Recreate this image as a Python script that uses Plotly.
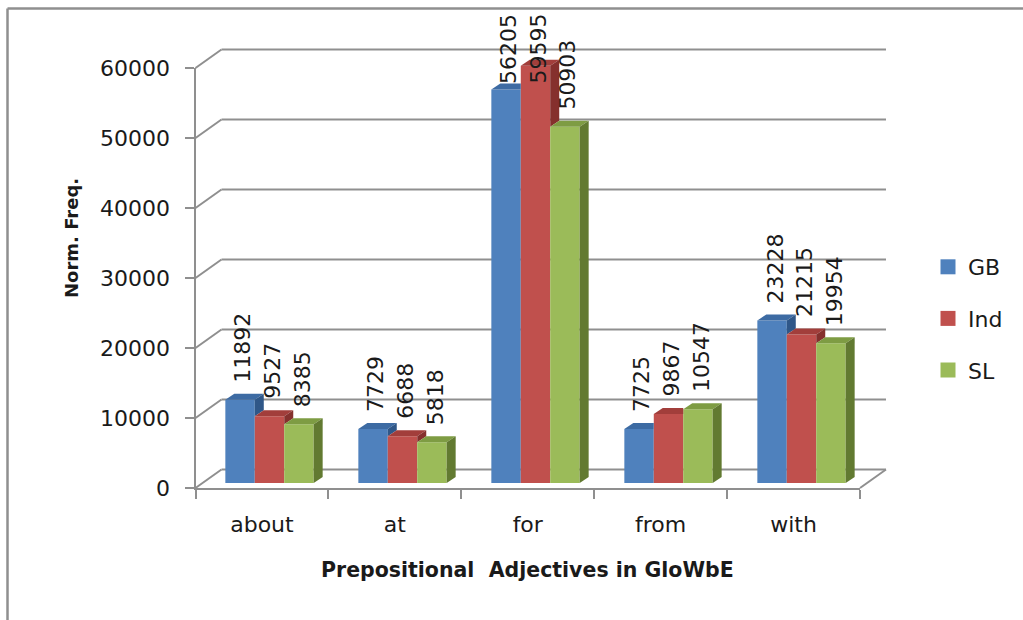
import plotly.graph_objects as go

# ---- data -------------------------------------------------------------
categories = ["about", "at", "for", "from", "with"]
series_names = ["GB", "Ind", "SL"]
gb_values = [11892, 7729, 56205, 7725, 23228]
ind_values = [9527, 6688, 59595, 9867, 21215]
sl_values = [8385, 5818, 50903, 10547, 19954]
y_ticks = [0, 10000, 20000, 30000, 40000, 50000, 60000]

x_title = "Prepositional  Adjectives in GloWbE"
y_title = "Norm. Freq."

# ---- styling ----------------------------------------------------------
FONT = "DejaVu Sans"
TEXT_COLOR = "#1a1a1a"
LINE_COLOR = "#8f8f8f"
front_colors = ["#4f81bd", "#c0504d", "#9bbb59"]
top_colors = ["#3d6ba3", "#a23e3b", "#7e9c43"]
side_colors = ["#2f5788", "#85302d", "#627a31"]

W, H = 1023, 620

# pseudo-3D frame geometry (pixels)
CAT_PX = 133.0            # width of one category slot
PX_PER_UNIT = 0.007       # vertical pixels per unit of Norm. Freq.
FRONT_LEFT = 195.5        # x of the front value axis
FRONT_RIGHT = 860.0       # right end of the front floor edge
FRONT_BASE = 488.0        # y of the front floor edge
BAR_SHIFT = (7.5, -5.0)   # plane of the column fronts, relative to the front plane
WALL_SHIFT = (26.0, -18.5)  # back wall, relative to the front plane
DEPTH = (9.0, -6.0)       # depth of each column
GROUP_FRAC = 0.664        # share of a category slot taken by the cluster

LABEL_SIZE = 22
LABEL_GAP = 15            # gap between column top and its value label
LABEL_TOP_LIMIT = 14      # labels are kept below this pixel row


# main axes = plane of the column fronts (x: category index, y: value)
def px_to_x(px):
    return (px - FRONT_LEFT - BAR_SHIFT[0]) / CAT_PX - 0.5


def py_to_y(py):
    return (FRONT_BASE + BAR_SHIFT[1] - py) / PX_PER_UNIT


x_range = [px_to_x(0), px_to_x(W)]
y_range = [py_to_y(H), py_to_y(0)]

ddx = DEPTH[0] / CAT_PX
ddy = -DEPTH[1] / PX_PER_UNIT

fig = go.Figure()
shapes = []
annotations = []


def line(x0, y0, x1, y1, layer="below"):
    shapes.append(dict(type="line", xref="x", yref="y", x0=x0, y0=y0, x1=x1, y1=y1,
                       line=dict(color=LINE_COLOR, width=2), layer=layer))


# back wall gridlines and left-side diagonals
wall_dy = -(WALL_SHIFT[1] - BAR_SHIFT[1]) / PX_PER_UNIT
front_dy = BAR_SHIFT[1] / PX_PER_UNIT
wall_x0 = px_to_x(FRONT_LEFT + WALL_SHIFT[0])
wall_x1 = px_to_x(FRONT_RIGHT + WALL_SHIFT[0])
front_x0 = px_to_x(FRONT_LEFT)
front_x1 = px_to_x(FRONT_RIGHT)
for v in y_ticks:
    line(wall_x0, v + wall_dy, wall_x1, v + wall_dy)
    line(front_x0, v + front_dy, wall_x0, v + wall_dy)
# right end of the floor
line(front_x1, front_dy, wall_x1, wall_dy)

# columns
all_values = [gb_values, ind_values, sl_values]
bar_w = GROUP_FRAC / 3
xs = list(range(len(categories)))
for k, (name, vals) in enumerate(zip(series_names, all_values)):
    off = -GROUP_FRAC / 2 + k * bar_w
    fig.add_trace(go.Bar(
        x=xs, y=vals, width=bar_w, offset=off, name=name,
        marker=dict(color=front_colors[k], line=dict(width=0)),
        showlegend=False, hoverinfo="y+name", xaxis="x", yaxis="y",
    ))
    for i, v in enumerate(vals):
        x0 = i + off
        x1 = x0 + bar_w
        nxt = all_values[k + 1][i] if k + 1 < len(all_values) else None
        # top face (its right part hides behind a taller neighbour)
        if nxt is not None and nxt > v:
            top = [(x0, v), (x1, v), (x1, v + ddy), (x0 + ddx, v + ddy)]
        else:
            top = [(x0, v), (x1, v), (x1 + ddx, v + ddy), (x0 + ddx, v + ddy)]
        # right side face (visible above the neighbour only)
        side = None
        if nxt is None:
            side = [(x1, 0), (x1 + ddx, ddy), (x1 + ddx, v + ddy), (x1, v)]
        elif nxt < v:
            side = [(x1, nxt), (x1 + ddx, nxt + ddy), (x1 + ddx, v + ddy), (x1, v)]
        for poly, col in ((top, top_colors[k]), (side, side_colors[k])):
            if poly is None:
                continue
            path = "M" + " L".join(f"{px},{py}" for px, py in poly) + " Z"
            shapes.append(dict(type="path", xref="x", yref="y", path=path,
                               fillcolor=col, line=dict(width=0), layer="above"))

        # value label, pushed down when it would leave the chart at the top
        text = str(v)
        label_len = len(text) * 0.636 * LABEL_SIZE + 2
        top_px = FRONT_BASE + BAR_SHIFT[1] - PX_PER_UNIT * v
        shift = LABEL_GAP
        if top_px - shift - label_len < LABEL_TOP_LIMIT:
            shift = top_px - LABEL_TOP_LIMIT - label_len
        annotations.append(dict(
            x=i + off + bar_w / 2, y=v, xref="x", yref="y", text=text,
            textangle=-90, showarrow=False, xanchor="center", yanchor="bottom",
            yshift=shift, xshift=3, font=dict(family=FONT, size=LABEL_SIZE, color=TEXT_COLOR),
        ))

    # legend entry
    fig.add_trace(go.Scatter(
        x=[None], y=[None], mode="markers", name=name, xaxis="x", yaxis="y",
        marker=dict(symbol="square", size=15, color=front_colors[k], line=dict(width=0)),
        legendgroup=name, showlegend=True,
    ))

# front axes carrying the tick labels
fig.add_trace(go.Scatter(x=categories, y=[None] * len(categories), xaxis="x2", yaxis="y2",
                         showlegend=False, hoverinfo="skip", mode="markers"))

# axis titles
annotations.append(dict(x=(FRONT_LEFT + FRONT_RIGHT) / 2 / W, y=1 - 570 / H, xref="paper", yref="paper",
                        text=f"<b>{x_title}</b>", showarrow=False, xanchor="center", yanchor="middle",
                        font=dict(family=FONT, size=20.5, color=TEXT_COLOR)))
annotations.append(dict(x=72 / W, y=1 - 238 / H, xref="paper", yref="paper",
                        text=f"<b>{y_title}</b>", showarrow=False, textangle=-90,
                        xanchor="center", yanchor="middle",
                        font=dict(family=FONT, size=18, color=TEXT_COLOR)))

# outer frame (left and top edges)
shapes.append(dict(type="line", xref="paper", yref="paper", x0=7.5 / W, x1=7.5 / W, y0=0, y1=1 - 8.5 / H,
                   line=dict(color=LINE_COLOR, width=2.5)))
shapes.append(dict(type="line", xref="paper", yref="paper", x0=7.5 / W, x1=1, y0=1 - 8.5 / H, y1=1 - 8.5 / H,
                   line=dict(color=LINE_COLOR, width=2.5)))

axis_font = dict(family=FONT, size=22, color=TEXT_COLOR)
fig.update_layout(
    width=W, height=H, template="none",
    margin=dict(l=0, r=0, t=0, b=0, pad=0),
    paper_bgcolor="white", plot_bgcolor="rgba(0,0,0,0)",
    barmode="overlay",
    xaxis=dict(domain=[0, 1], range=x_range, visible=False, fixedrange=True),
    yaxis=dict(domain=[0, 1], range=y_range, visible=False, fixedrange=True),
    xaxis2=dict(
        domain=[FRONT_LEFT / W, FRONT_RIGHT / W], anchor="y2", type="category",
        categoryorder="array", categoryarray=categories, range=[-0.5, len(categories) - 0.5],
        tickson="boundaries", ticks="outside", ticklen=9, tickwidth=2, tickcolor=LINE_COLOR,
        showline=True, linecolor=LINE_COLOR, linewidth=2, showgrid=False, zeroline=False,
        tickfont=axis_font, ticklabelstandoff=16, automargin=False,
    ),
    yaxis2=dict(
        domain=[1 - FRONT_BASE / H, 1 - (FRONT_BASE - PX_PER_UNIT * 60000) / H], anchor="x2",
        range=[0, 60000], tickmode="array", tickvals=y_ticks, ticktext=[str(t) for t in y_ticks],
        ticks="outside", ticklen=9, tickwidth=2, tickcolor=LINE_COLOR,
        showline=True, linecolor=LINE_COLOR, linewidth=2, showgrid=False, zeroline=False,
        tickfont=axis_font, ticklabelstandoff=10, automargin=False,
    ),
    legend=dict(x=928 / W, y=1 - 246 / H, xanchor="left", yanchor="top",
                font=dict(family=FONT, size=22, color=TEXT_COLOR),
                tracegroupgap=20, bgcolor="rgba(0,0,0,0)", itemsizing="trace"),
    shapes=shapes,
    annotations=annotations,
    showlegend=True,
)

fig.write_html("out.html")
